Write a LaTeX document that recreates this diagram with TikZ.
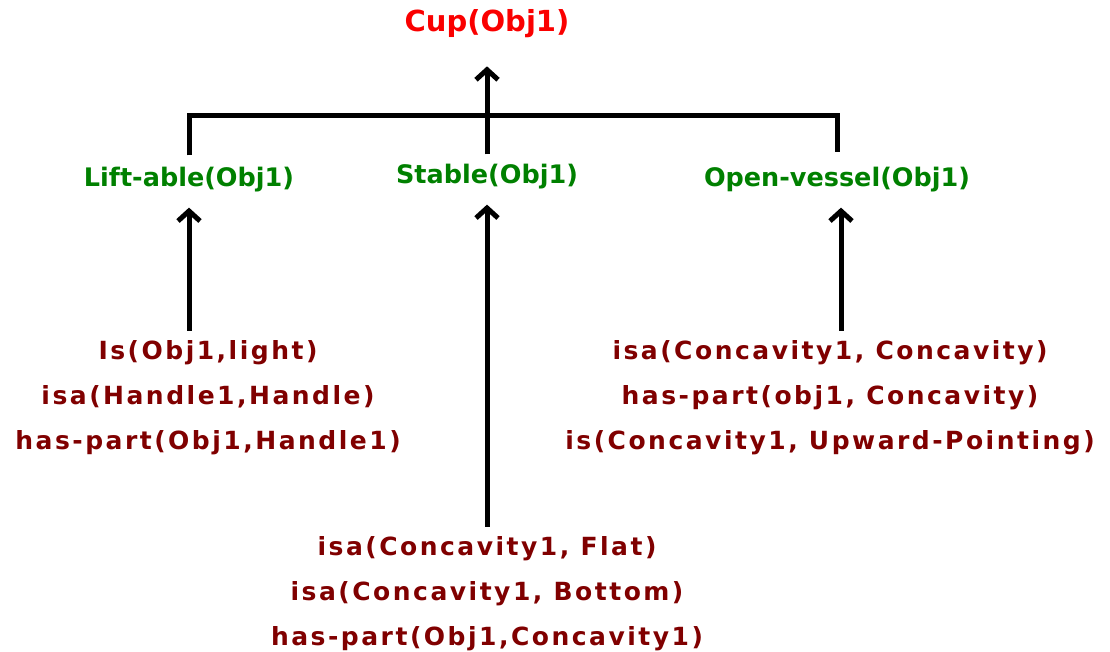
\documentclass[tikz,border=0pt]{standalone}
\usepackage{fontspec}
\setmainfont{DejaVu Sans}
\newfontfamily\factfont[LetterSpace=10]{DejaVu Sans}
\usetikzlibrary{arrows.meta}
\definecolor{goalred}{RGB}{250,0,0}
\definecolor{condgreen}{RGB}{0,128,0}
\definecolor{factred}{RGB}{128,0,0}

\begin{document}
\begin{tikzpicture}[x=1pt,y=-1pt,
   goal/.style  = {font=\bfseries\fontsize{29}{33}\selectfont, text=goalred, inner sep=0pt},
   cond/.style  = {font=\bfseries\fontsize{25.5}{30}\selectfont, text=condgreen, inner sep=0pt},
   facts/.style = {font=\factfont\bfseries\fontsize{25}{45}\selectfont, text=factred,
                   align=center, inner sep=0pt},
   link/.style  = {line width=5pt},
   up/.style    = {link, -{Straight Barb[length=10pt,width=22pt]}}]
   \useasboundingbox (0,0) rectangle (1110,652);
   % goal and the three conditions
   \node[goal] (cup)    at (487,24)  {Cup(Obj1)};
   \node[cond] (lift)   at (189,180) {Lift-able(Obj1)};
   \node[cond] (stable) at (487,177) {Stable(Obj1)};
   \node[cond] (open)   at (837,180) {Open-vessel(Obj1)};
   \coordinate (bar) at (487,116);
   \coordinate (openin) at ([xshift=4pt]open.south);
   % facts
   \node[facts] (liftfacts)   at (208,398) {Is(Obj1,light)\\isa(Handle1,Handle)\\has-part(Obj1,Handle1)};
   \node[facts] (stablefacts) at (487,594) {isa(Concavity1, Flat)\\isa(Concavity1, Bottom)\\has-part(Obj1,Concavity1)};
   \node[facts] (openfacts)   at (830,398) {isa(Concavity1, Concavity)\\has-part(obj1, Concavity)\\is(Concavity1, Upward-Pointing)};
   % connectors
   \draw[link, shorten <=12pt, shorten >=15pt] (lift.north) |- (bar) -| (open.north);
   \draw[up, shorten <=10pt, shorten >=28pt] (stable.north) -- (cup.south);
   \draw[up, shorten <=10pt, shorten >=15pt] (lift.south |- liftfacts.north) -- (lift.south);
   \draw[up, shorten <=10pt, shorten >=15pt] (stable.south |- stablefacts.north) -- (stable.south);
   \draw[up, shorten <=10pt, shorten >=15pt] (openin |- openfacts.north) -- (openin);
\end{tikzpicture}
\end{document}
